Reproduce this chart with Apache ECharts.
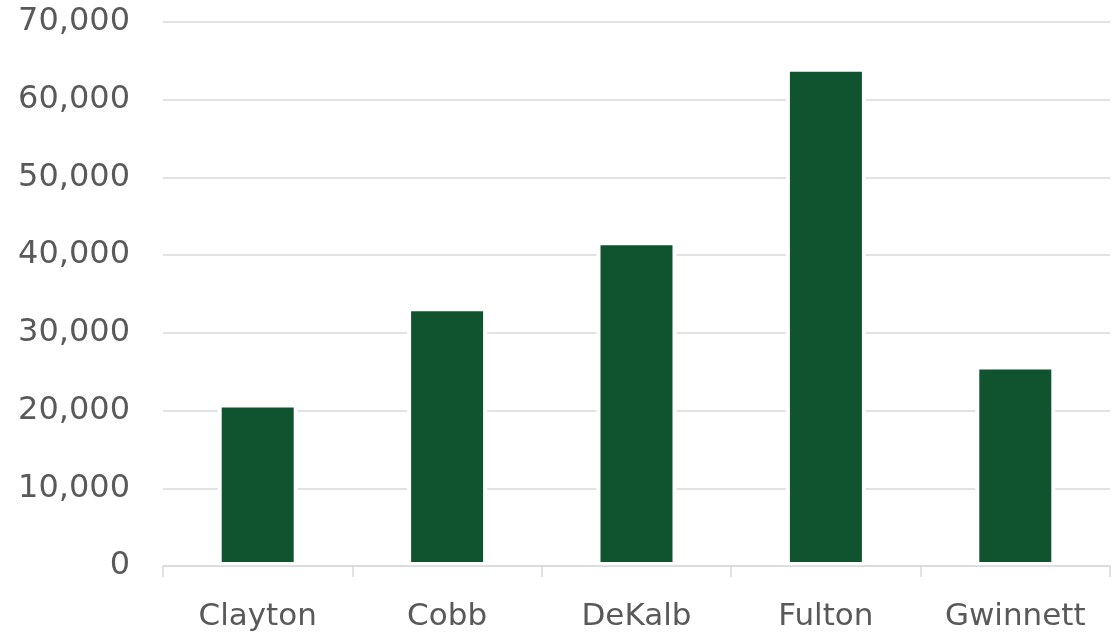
<!DOCTYPE html>
<html>
<head>
<meta charset="utf-8">
<script src="https://cdn.jsdelivr.net/npm/echarts@6/dist/echarts.min.js"></script>
<style>
  html, body { margin: 0; padding: 0; background: #fff; }
  #chart { width: 1116px; height: 632px; }
</style>
</head>
<body>
<div id="chart"></div>
<script>
// counties and values
const counties = ['Clayton', 'Cobb', 'DeKalb', 'Fulton', 'Gwinnett'];
const values = [20900, 33300, 41800, 64100, 25800];
const yTicks = [0, 10000, 20000, 30000, 40000, 50000, 60000, 70000];

const chart = echarts.init(document.getElementById('chart'));

const textColor = '#595959';
const gridColor = '#d9d9d9';

chart.setOption({
    animation: false,
    grid: {
        left: 163,
        right: 6,
        top: 22,
        bottom: 65,
        containLabel: false
    },
    xAxis: {
        type: 'category',
        data: counties,
        z: 3,
        axisLine: {lineStyle: {color: gridColor, width: 1.5}},
        axisTick: {show: true, length: 11, lineStyle: {color: gridColor, width: 1.5}},
        axisLabel: {
            margin: 35,
            color: textColor,
            fontFamily: 'DejaVu Sans',
            fontSize: 31
        }
    },
    yAxis: {
        type: 'value',
        min: yTicks[0],
        max: yTicks[yTicks.length - 1],
        interval: 10000,
        axisLine: {show: false},
        axisTick: {show: false},
        splitLine: {lineStyle: {color: gridColor, width: 1.5}},
        axisLabel: {
            margin: 33,
            color: textColor,
            fontFamily: 'DejaVu Sans',
            fontSize: 32,
            formatter: function (v) {
                return v.toLocaleString('en-US');
            }
        }
    },
    series: [{
        type: 'bar',
        data: values,
        barWidth: 80,
        itemStyle: {
            color: '#10532f',
            borderColor: '#ffffff',
            borderWidth: 4
        }
    }]
});
</script>
</body>
</html>
